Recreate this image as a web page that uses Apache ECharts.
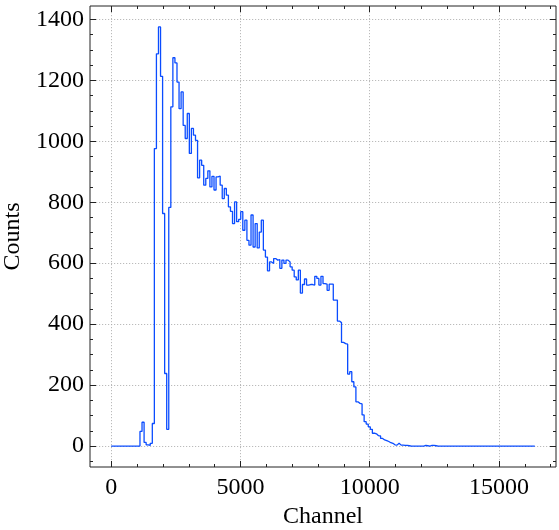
<!DOCTYPE html>
<html>
<head>
<meta charset="utf-8">
<script src="https://cdn.jsdelivr.net/npm/echarts@6/dist/echarts.min.js"></script>
<style>
  html, body { margin: 0; padding: 0; background: #fff; }
  #chart { width: 559px; height: 530px; }
</style>
</head>
<body>
<div id="chart"></div>
<script>
// ---- data ----
const channelMax = 16384;   // histogram spans channels 0..16384
const counts = [
  0,0,0,0,0,0,0,0,0,0,0,0,0,0,
  48,78,12,4,2,9,74,976,1287,1375,
  1213,763,238,55,783,1113,1274,1257,1194,1107,
  1162,1052,1009,1091,960,1042,1020,1003,880,938,
  921,856,878,903,850,885,840,883,886,856,
  812,845,823,785,770,730,801,736,744,769,
  708,741,675,659,758,653,730,650,702,741,
  643,620,575,604,599,615,610,612,583,610,
  599,610,604,588,577,555,545,577,502,530,
  548,528,530,530,528,557,550,528,557,533,
  531,511,531,531,479,479,410,405,340,336,
  334,236,244,211,194,145,140,138,102,80,
  72,63,55,42,40,34,33,25,20,18,
  15,11,9,4,3,9,3,3,2,2,
  1,0,0,0,0,0,0,0,2,1,
  0,2,2,1,0,0,0,0,0,0,
  0,0,0,0,0,0,0,0,0,0,
  0,0,0,0,0,0,0,0,0,0,
  0,0,0,0,0,0,0,0,0,0,
  0,0,0,0,0,0,0,0,0,0,
  0,0
];
const xMajorTicks = [0, 5000, 10000, 15000];
const xMinorTicks = [0,1000,2000,3000,4000,5000,6000,7000,8000,9000,10000,11000,12000,13000,14000,15000,16000,17000];
const yMajorTicks = [0, 200, 400, 600, 800, 1000, 1200, 1400];
const yMinorTicks = [-50,0,50,100,150,200,250,300,350,400,450,500,550,600,650,700,750,800,850,900,950,1000,1050,1100,1150,1200,1250,1300,1350,1400];
const xLabel = 'Channel';
const yLabel = 'Counts';

// ---- build step points from bins ----
const nBins = counts.length;
const binWidth = channelMax / nBins;
const stepPoints = counts.map((c, i) => [i * binWidth, c]);
stepPoints.push([channelMax, counts[nBins - 1]]);

// matplotlib-like 5% margins
const xMin = -0.05 * channelMax, xMax = channelMax * 1.05;
const yPeak = Math.max(...counts);
const yMin = -0.05 * yPeak, yMax = yPeak * 1.05;

const FONT = 'Liberation Serif';
const tickColor = '#222';
const plain = v => String(Math.round(v));

function xAxisDef(pos, vals, len, main) {
  return {
    type: 'value', min: xMin, max: xMax, position: pos,
    axisLine: { show: false, onZero: false },
    axisTick: { show: true, inside: true, length: len, customValues: vals,
                lineStyle: { color: tickColor, width: 1 } },
    axisLabel: main ? { show: true, customValues: xMajorTicks, formatter: plain, fontFamily: FONT, fontSize: 24,
                        color: '#000', margin: 9 } : { show: false },
    splitLine: main ? { show: true, lineStyle: { color: '#a9a9a9', width: 0.8, type: [1.2, 1.8] } } : { show: false },
    name: main ? xLabel : '',
    nameLocation: 'middle', nameGap: 38,
    nameTextStyle: { fontFamily: FONT, fontSize: 24, color: '#000' }
  };
}
function yAxisDef(pos, vals, len, main) {
  return {
    type: 'value', min: yMin, max: yMax, position: pos,
    axisLine: { show: false, onZero: false },
    axisTick: { show: true, inside: true, length: len, customValues: vals,
                lineStyle: { color: tickColor, width: 1 } },
    axisLabel: main ? { show: true, customValues: yMajorTicks, formatter: plain, fontFamily: FONT, fontSize: 24,
                        color: '#000', margin: 6 } : { show: false },
    splitLine: main ? { show: true, lineStyle: { color: '#a9a9a9', width: 0.8, type: [1.2, 1.8] } } : { show: false },
    name: main ? yLabel : '',
    nameLocation: 'middle', nameGap: 60, nameRotate: 90,
    nameTextStyle: { fontFamily: FONT, fontSize: 24, color: '#000' }
  };
}

const chart = echarts.init(document.getElementById('chart'), null, { renderer: 'canvas' });
chart.setOption({
  animation: false,
  backgroundColor: '#fff',
  grid: { left: 90, right: 3, top: 6, bottom: 63, show: true, containLabel: false,
          outerBoundsMode: 'none',
          borderColor: '#222', borderWidth: 1, backgroundColor: 'transparent' },
  xAxis: [
    xAxisDef('bottom', xMajorTicks, 6, true),
    xAxisDef('bottom', xMinorTicks, 3, false),
    xAxisDef('top', xMajorTicks, 6, false),
    xAxisDef('top', xMinorTicks, 3, false)
  ],
  yAxis: [
    yAxisDef('left', yMajorTicks, 6, true),
    yAxisDef('left', yMinorTicks, 3, false),
    yAxisDef('right', yMajorTicks, 6, false),
    yAxisDef('right', yMinorTicks, 3, false)
  ],
  series: [{
    type: 'line',
    xAxisIndex: 0, yAxisIndex: 0,
    data: stepPoints,
    step: 'end',
    showSymbol: false,
    symbol: 'none',
    clip: true,
    lineStyle: { color: '#0a4cff', width: 1.3 }
  }]
});
</script>
</body>
</html>
